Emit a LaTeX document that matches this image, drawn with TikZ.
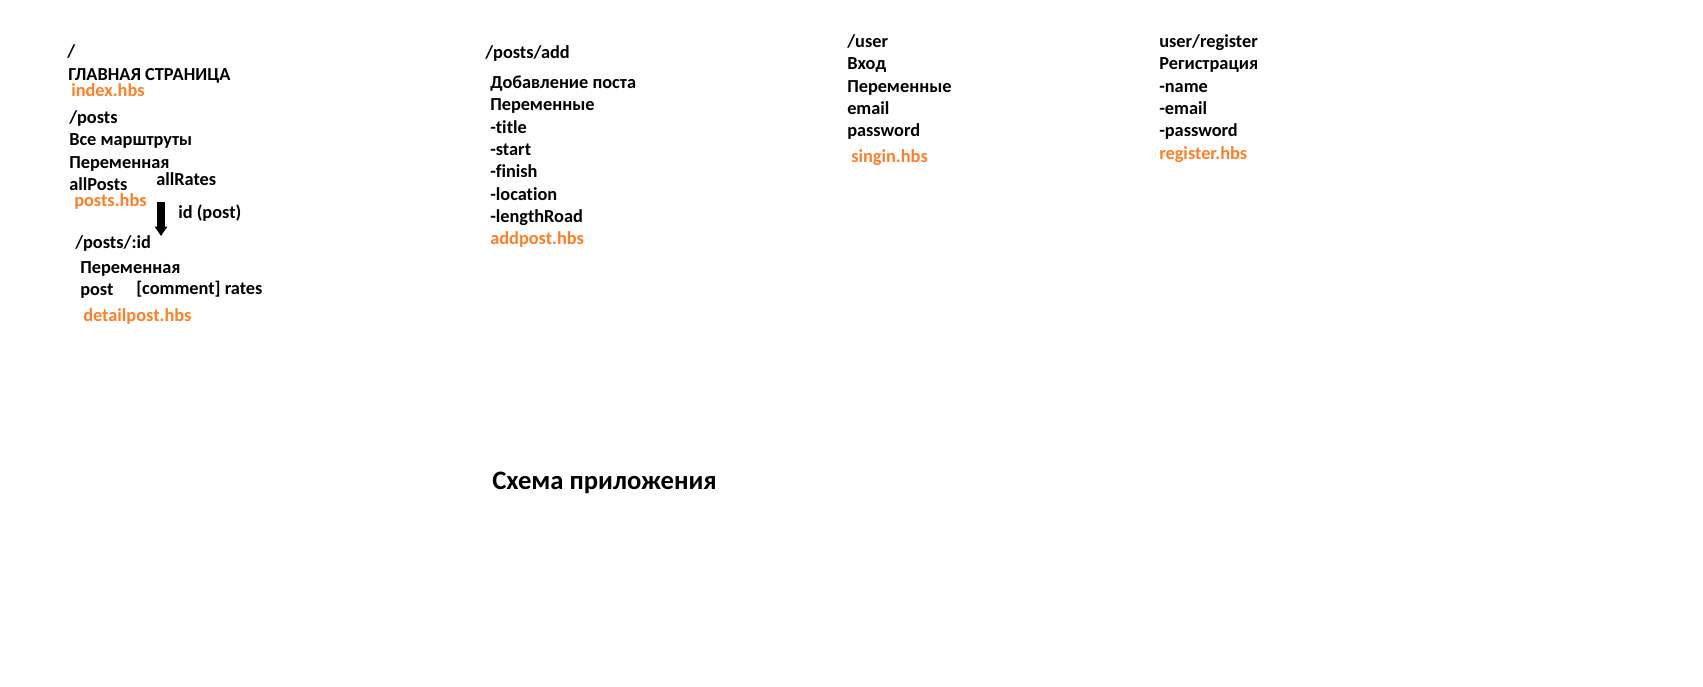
\documentclass[tikz,border=0pt]{standalone}
\usepackage{fontspec}
\setmainfont{Carlito}[Ligatures=NoCommon]
\usepackage{tikz}
\usetikzlibrary{arrows.meta,positioning}
\definecolor{hbsorange}{RGB}{255,127,39}

\begin{document}
\begin{tikzpicture}[
  x=0.75pt, y=0.75pt,
  lbl/.style={inner sep=0pt, anchor=west, text height=8.5pt, text depth=0pt, font=\fontsize{13.75}{16}\selectfont\bfseries},
  hbs/.style={lbl, text=hbsorange},
  under/.style={below=7.8pt of #1.south west, anchor=north west},
  arr/.style={-{Triangle[width=9pt,length=7pt]}, line width=6pt}
]
\useasboundingbox (0,0) rectangle (1703,-686);

% main page and posts
\node[lbl] (root) at (67,-52) {/};
\node[lbl] (main) at (68,-75) {ГЛАВНАЯ СТРАНИЦА};
\node[hbs] (indexhbs) at (71,-91) {index.hbs};
\node[lbl] (posts) at (69,-118) {/posts};
\node[lbl, under=posts] (allroutes) {Все марштруты};
\node[lbl, under=allroutes] (postsvar) {Переменная};
\node[lbl, under=postsvar] (allposts) {allPosts};
\node[lbl] (allrates) at (156,-180) {allRates};
\node[hbs] (postshbs) at (74,-201) {posts.hbs};
\node[lbl] (idpost) at (178,-213) {id (post)};
\node[lbl] (postid) at (75,-243) {/posts/:id};
\node[lbl] (detailvar) at (80,-268) {Переменная};
\node[lbl, under=detailvar] (post) {post};
\node[lbl] (rates) at (136,-289) {[comment] rates};
\node[hbs] (detailhbs) at (83,-316) {detailpost.hbs};

\coordinate (arrtop) at (161,-202);
\coordinate (arrbot) at (161,-236);
\draw[arr] (arrtop) -- (arrbot);

% add post
\node[lbl] (postsadd) at (485,-53) {/posts/add};
\node[lbl] (addtitle) at (490,-83) {Добавление поста};
\node[lbl, under=addtitle] (addvar) {Переменные};
\node[lbl, under=addvar] (ftitle) {-title};
\node[lbl, under=ftitle] (fstart) {-start};
\node[lbl, under=fstart] (ffinish) {-finish};
\node[lbl, under=ffinish] (flocation) {-location};
\node[lbl, under=flocation] (flength) {-lengthRoad};
\node[hbs, under=flength] (addhbs) {addpost.hbs};

% sign in
\node[lbl] (user) at (847,-42) {/user};
\node[lbl, under=user] (login) {Вход};
\node[lbl, under=login] (uservar) {Переменные};
\node[lbl, under=uservar] (uemail) {email};
\node[lbl, under=uemail] (upass) {password};
\node[hbs] (singinhbs) at (851,-157) {singin.hbs};

% register
\node[lbl] (register) at (1159,-42) {user/register};
\node[lbl, under=register] (regtitle) {Регистрация};
\node[lbl, under=regtitle] (rname) {-name};
\node[lbl, under=rname] (remail) {-email};
\node[lbl, under=remail] (rpass) {-password};
\node[hbs, under=rpass] (reghbs) {register.hbs};

\node[lbl, font=\fontsize{20}{24}\selectfont\bfseries, text height=12.5pt] (scheme) at (492,-481) {Схема приложения};
\end{tikzpicture}
\end{document}
